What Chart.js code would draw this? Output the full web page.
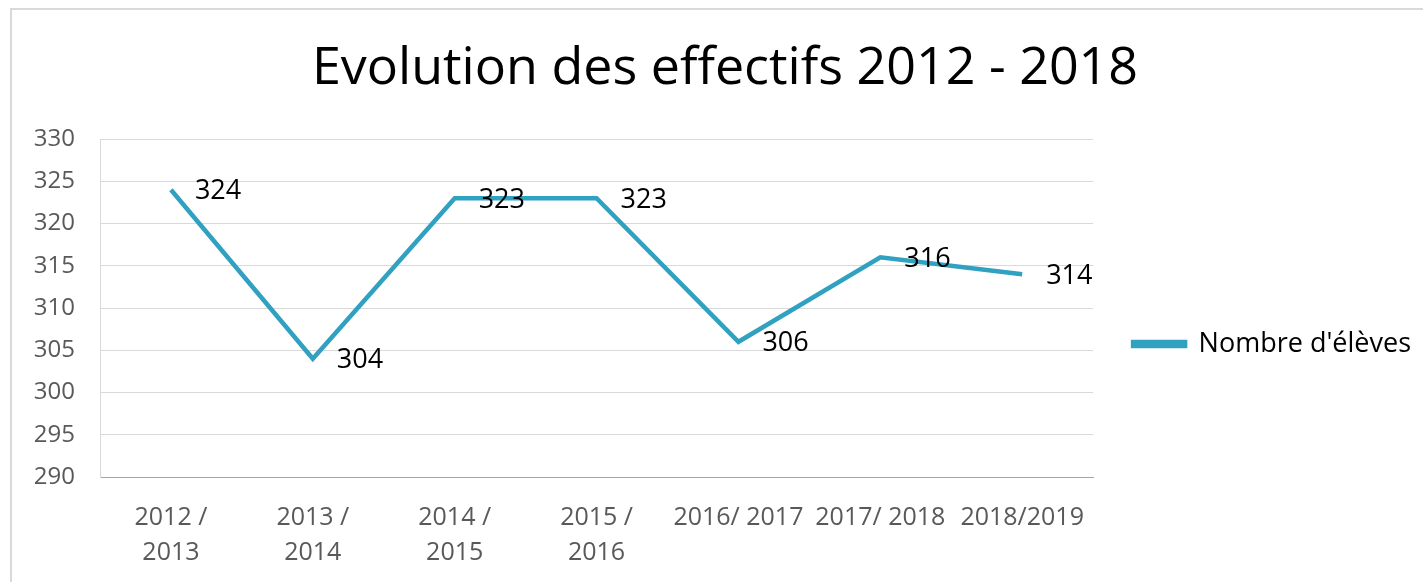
<!DOCTYPE html>
<html>
<head>
<meta charset="utf-8">
<script src="https://cdn.jsdelivr.net/npm/chart.js@4/dist/chart.umd.min.js"></script>
<style>
  html, body { margin: 0; padding: 0; background: #fff; overflow: hidden; }
  #wrap { position: relative; width: 1423px; height: 582px; overflow: hidden; }
  #frame { position: absolute; left: 10px; top: 8px; width: 1500px; height: 700px;
           border-top: 2px solid #d9d9d9; border-left: 2px solid #d9d9d9; }
  canvas { position: absolute; left: 0; top: 0; }
</style>
</head>
<body>
<div id="wrap">
  <div id="frame"></div>
  <canvas id="lineChart" width="1421" height="582"></canvas>
</div>
<script>
// categories (school years) and values
var years = [["2012 /", "2013"], ["2013 /", "2014"], ["2014 /", "2015"], ["2015 /", "2016"],
             "2016/ 2017", "2017/ 2018", "2018/2019"];
var eleves = [324, 304, 323, 323, 306, 316, 314];
var yTicks = [290, 295, 300, 305, 310, 315, 320, 325, 330];

var FONT = "'Open Sans', sans-serif";
var lineColor = "#31a1c2";

// value labels to the right of each point
var valueLabels = {
  id: 'valueLabels',
  afterDatasetsDraw: function(chart) {
    var ctx = chart.ctx;
    var meta = chart.getDatasetMeta(0);
    ctx.save();
    ctx.font = "27px " + FONT;
    ctx.fillStyle = "#000";
    ctx.textAlign = "left";
    ctx.textBaseline = "middle";
    meta.data.forEach(function(pt, i) {
      ctx.fillText(String(eleves[i]), pt.x + 24, pt.y + 2);
    });
    ctx.restore();
  }
};

var ctxL = document.getElementById("lineChart").getContext('2d');
var myLineChart = new Chart(ctxL, {
  type: 'line',
  data: {
    labels: years,
    datasets: [{
      label: "Nombre d'élèves",
      data: eleves,
      borderColor: lineColor,
      backgroundColor: lineColor,
      borderWidth: 4.5,
      pointRadius: 0,
      tension: 0
    }]
  },
  options: {
    responsive: false,
    animation: false,
    layout: { padding: { left: 29, right: 0, top: 0, bottom: 0 } },
    plugins: {
      title: {
        display: true,
        text: "Evolution des effectifs 2012 - 2018",
        color: "#000",
        font: { family: FONT, size: 52, weight: 'normal' },
        padding: { top: 38, bottom: 38.6 }
      },
      legend: {
        position: 'right',
        // empty title only pushes the item down to the reference height
        title: {
          display: true,
          text: '',
          font: { family: FONT, size: 12 },
          padding: { top: 91.6, bottom: 0 }
        },
        labels: {
          boxWidth: 52,
          boxHeight: 4,
          padding: 40,
          color: "#000",
          font: { family: FONT, size: 27 }
        }
      },
      tooltip: { enabled: false }
    },
    scales: {
      x: {
        offset: true,
        afterFit: function(scale) { scale.height = 105; },
        grid: { display: false, drawTicks: false },
        border: { display: true, color: "#a6a6a6", width: 1 },
        ticks: {
          color: "#595959",
          font: { family: FONT, size: 25, lineHeight: 1.4 },
          padding: 23,
          maxRotation: 0,
          minRotation: 0,
          autoSkip: false
        }
      },
      y: {
        min: 290,
        max: 330,
        afterBuildTicks: function(scale) {
          scale.ticks = yTicks.map(function(v) { return { value: v }; });
        },
        afterFit: function(scale) { scale.width = 71; },
        grid: { color: "#d9d9d9", drawTicks: false },
        border: { display: true, color: "#d9d9d9" },
        ticks: {
          color: "#595959",
          font: { family: FONT, size: 24 },
          padding: 25
        }
      }
    }
  },
  plugins: [valueLabels]
});
</script>
</body>
</html>
